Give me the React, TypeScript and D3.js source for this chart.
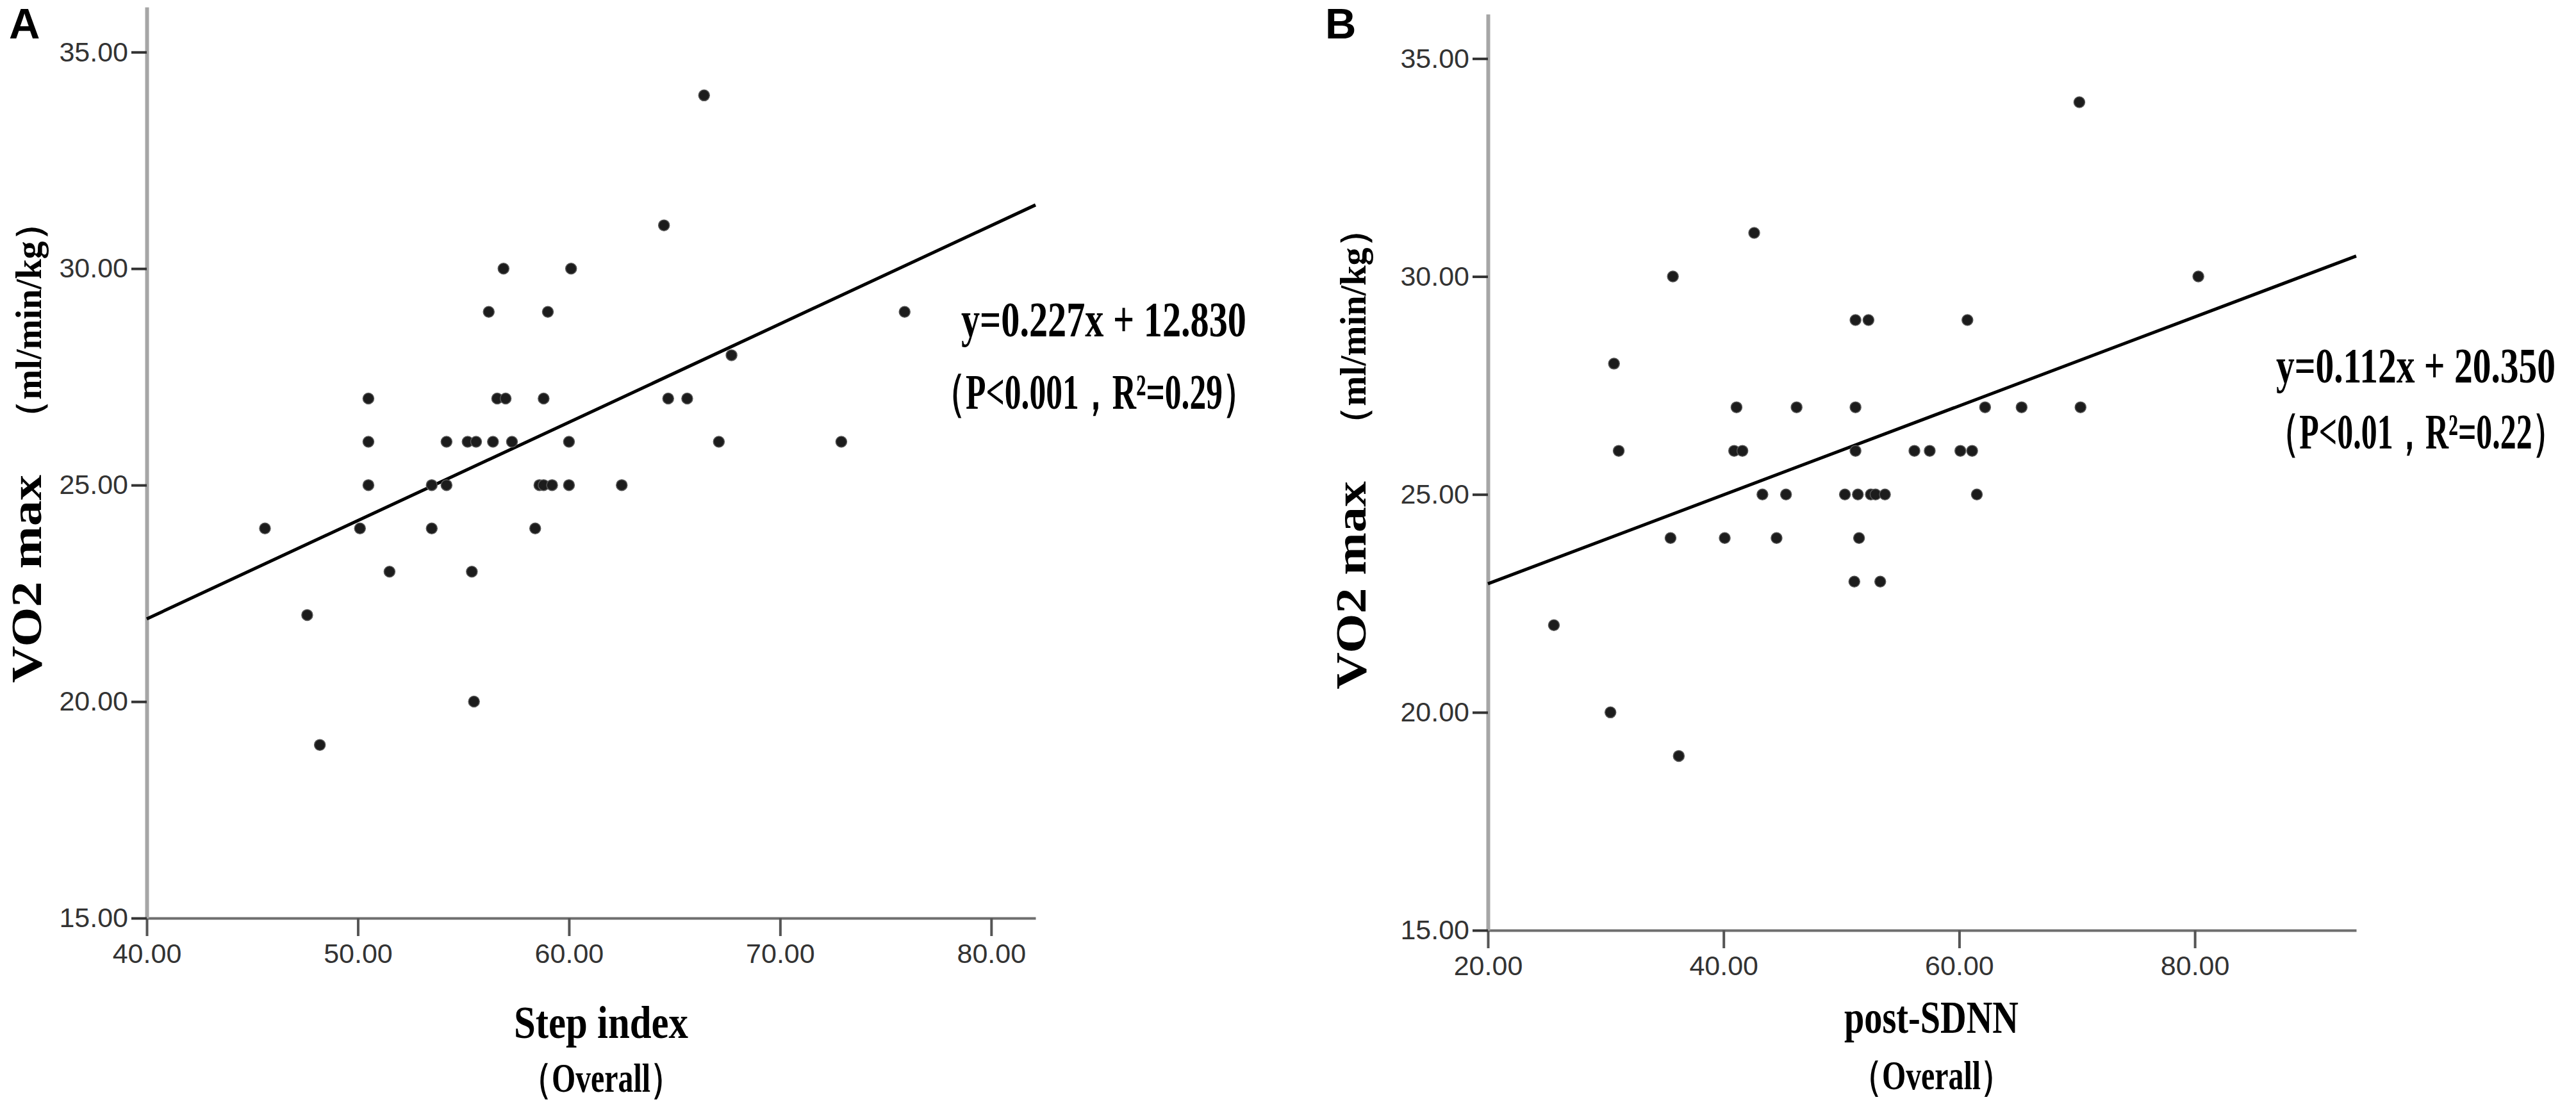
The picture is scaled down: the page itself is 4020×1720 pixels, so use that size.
import { useEffect, useRef } from "react";
import * as d3 from "d3";

// Panel A: Step index vs VO2 max
const stepIndex = [
  45.6, 47.6, 48.2, 50.1, 50.5, 50.5, 50.5, 51.5, 53.5, 53.5,
  54.2, 54.2, 55.2, 55.6, 55.4, 55.5, 56.2, 56.4, 56.6, 57.0,
  56.9, 57.3, 58.4, 58.6, 58.8, 58.8, 59.0, 59.2, 60.0, 60.0,
  60.1, 62.5, 64.5, 64.7, 65.6, 66.4, 67.1, 67.7, 72.9, 75.9,
];
const vo2A = [
  24, 22, 19, 24, 27, 26, 25, 23, 24, 25,
  26, 25, 26, 26, 23, 20, 29, 26, 27, 27,
  30, 26, 24, 25, 25, 27, 29, 25, 26, 25,
  30, 25, 31, 27, 27, 34, 26, 28, 26, 29,
];

// Panel B: post-SDNN vs VO2 max
const postSdnn = [
  25.6, 30.4, 30.7, 31.1, 35.5, 35.7, 36.2, 40.1, 41.1, 40.9,
  41.6, 42.6, 43.3, 44.5, 45.3, 46.2, 50.3, 51.1, 51.2, 51.2,
  51.2, 51.4, 51.5, 52.3, 52.5, 52.9, 53.3, 53.7, 56.2, 57.5,
  60.1, 60.7, 61.1, 61.5, 62.2, 65.3, 70.2, 70.3, 80.3,
];
const vo2B = [
  22, 20, 28, 26, 24, 30, 19, 24, 27, 26,
  26, 31, 25, 24, 25, 27, 25, 23, 26, 27,
  29, 25, 24, 29, 25, 25, 23, 25, 26, 26,
  26, 29, 26, 25, 27, 27, 34, 27, 30,
];

// fitted lines as drawn (x, y end points)
const fitA: [number, number][] = [[40, 21.91], [82.1, 31.47]];
const fitB: [number, number][] = [[20, 22.95], [93.7, 30.47]];

const xTicksA = [40, 50, 60, 70, 80];
const xTicksB = [20, 40, 60, 80];
const yTicks = [15, 20, 25, 30, 35];

const eqA = ["y=0.227x + 12.830", "（P<0.001，R²=0.29）"];
const eqB = ["y=0.112x + 20.350", "（P<0.01，R²=0.22）"];

type Panel = {
  letter: string;
  xs: number[];
  ys: number[];
  fit: [number, number][];
  xDomain: [number, number];
  yDomain: [number, number];
  xTicks: number[];
  xRange: [number, number];
  yRange: [number, number];
  xTitle: string;
  eq: string[];
  eqPos: { x1: number; y1: number; w1: number; x2: number; y2: number; w2: number };
  letterX: number;
  titleX: number;
  titleShift: number;
  xTitleCenter: number;
  xTitleY: [number, number];
};

const panels: Panel[] = [
  {
    letter: "A",
    xs: stepIndex,
    ys: vo2A,
    fit: fitA,
    xDomain: [40, 82.1],
    yDomain: [15, 36.04],
    xTicks: xTicksA,
    xRange: [229, 1616],
    yRange: [1433, 11],
    xTitle: "Step index",
    eq: eqA,
    eqPos: { x1: 1500, y1: 525, w1: 445, x2: 1455, y2: 638, w2: 505 },
    letterX: 14,
    titleX: 64,
    titleShift: 0,
    xTitleCenter: 938,
    xTitleY: [1620, 1704],
  },
  {
    letter: "B",
    xs: postSdnn,
    ys: vo2B,
    fit: fitB,
    xDomain: [20, 93.7],
    yDomain: [15, 36.02],
    xTicks: xTicksB,
    xRange: [2322, 3677],
    yRange: [1452, 22],
    xTitle: "post-SDNN",
    eq: eqB,
    eqPos: { x1: 3552, y1: 597, w1: 436, x2: 3538, y2: 700, w2: 464 },
    letterX: 2068,
    titleX: 2131,
    titleShift: 10,
    xTitleCenter: 3014,
    xTitleY: [1612, 1700],
  },
];

const serif = "'Liberation Serif', 'Times New Roman', serif";
const sans = "'Liberation Sans', Arial, sans-serif";

export default function App() {
  const ref = useRef<SVGSVGElement>(null);

  useEffect(() => {
    if (!ref.current) return;
    const svg = d3.select(ref.current);
    svg.selectAll("*").remove();

    panels.forEach((p) => {
      const x = d3.scaleLinear().domain(p.xDomain).range(p.xRange);
      const y = d3.scaleLinear().domain(p.yDomain).range(p.yRange);
      const g = svg.append("g");

      // x axis
      g.append("g")
        .attr("transform", `translate(0,${p.yRange[0]})`)
        .call(d3.axisBottom(x).tickValues(p.xTicks).tickSize(28).tickPadding(11).tickFormat(d3.format(".2f")).tickSizeOuter(0))
        .call((a) => {
          a.select(".domain").attr("stroke", "#6e6e6e").attr("stroke-width", 4);
          a.selectAll(".tick line").attr("stroke", "#555").attr("stroke-width", 4);
          a.selectAll(".tick text").attr("fill", "#333").attr("font-family", sans).attr("font-size", 43);
        });

      // y axis
      g.append("g")
        .attr("transform", `translate(${p.xRange[0]},0)`)
        .call(d3.axisLeft(y).tickValues(yTicks).tickSize(24).tickPadding(5).tickFormat(d3.format(".2f")).tickSizeOuter(0))
        .call((a) => {
          a.select(".domain").attr("stroke", "#a6a6a6").attr("stroke-width", 6);
          a.selectAll(".tick line").attr("stroke", "#333").attr("stroke-width", 4);
          a.selectAll(".tick text").attr("fill", "#333").attr("font-family", sans).attr("font-size", 43);
        });

      // fit line
      const line = d3.line<[number, number]>()
        .x((d) => x(d[0]))
        .y((d) => y(d[1]));
      g.append("path")
        .datum(p.fit)
        .attr("fill", "none")
        .attr("stroke", "#000")
        .attr("stroke-width", 5)
        .attr("d", line);

      // points
      g.append("g")
        .selectAll("circle")
        .data(p.xs)
        .join("circle")
        .attr("cx", (d) => x(d))
        .attr("cy", (_, i) => y(p.ys[i]))
        .attr("r", 8.5)
        .attr("fill", "#1c1c1c")
        .attr("stroke", "#555")
        .attr("stroke-width", 1.5);

      // panel letter
      g.append("text")
        .attr("x", p.letterX)
        .attr("y", 60)
        .attr("font-family", sans)
        .attr("font-weight", "bold")
        .attr("font-size", 67)
        .text(p.letter);

      // equation: smaller font stretched vertically to get the tall, narrow look
      const e = p.eqPos;
      [[e.x1, e.y1, e.w1, 58], [e.x2, e.y2, e.w2, 50]].forEach(([tx, ty, tw, fs], i) => {
        g.append("text")
          .attr("transform", `translate(${tx},${ty}) scale(1,${78 / fs})`)
          .attr("font-family", serif)
          .attr("font-weight", "bold")
          .attr("font-size", fs)
          .attr("textLength", tw)
          .attr("lengthAdjust", "spacingAndGlyphs")
          .text(p.eq[i]);
      });

      // x title
      g.append("text")
        .attr("x", p.xTitleCenter)
        .attr("y", p.xTitleY[0])
        .attr("text-anchor", "middle")
        .attr("font-family", serif)
        .attr("font-weight", "bold")
        .attr("font-size", 71)
        .attr("textLength", 272)
        .attr("lengthAdjust", "spacingAndGlyphs")
        .text(p.xTitle);
      g.append("text")
        .attr("x", p.xTitleCenter)
        .attr("y", p.xTitleY[1])
        .attr("text-anchor", "middle")
        .attr("font-family", serif)
        .attr("font-weight", "bold")
        .attr("font-size", 64)
        .attr("textLength", 250)
        .attr("lengthAdjust", "spacingAndGlyphs")
        .text("（Overall）");

      // y title
      g.append("text")
        .attr("transform", `translate(${p.titleX},${1066 + p.titleShift}) rotate(-90)`)
        .attr("font-family", serif)
        .attr("font-weight", "bold")
        .attr("font-size", 68)
        .attr("textLength", 325)
        .attr("lengthAdjust", "spacingAndGlyphs")
        .text("VO2 max");
      g.append("text")
        .attr("transform", `translate(${p.titleX},${680 + p.titleShift}) rotate(-90)`)
        .attr("font-family", serif)
        .attr("font-weight", "bold")
        .attr("font-size", 56)
        .attr("textLength", 360)
        .attr("lengthAdjust", "spacingAndGlyphs")
        .text("（ml/min/kg）");
    });
  }, []);

  return (
    <svg
      ref={ref}
      width={4020}
      height={1720}
      style={{ position: "absolute", left: 0, top: 0, background: "#fff" }}
    />
  );
}
